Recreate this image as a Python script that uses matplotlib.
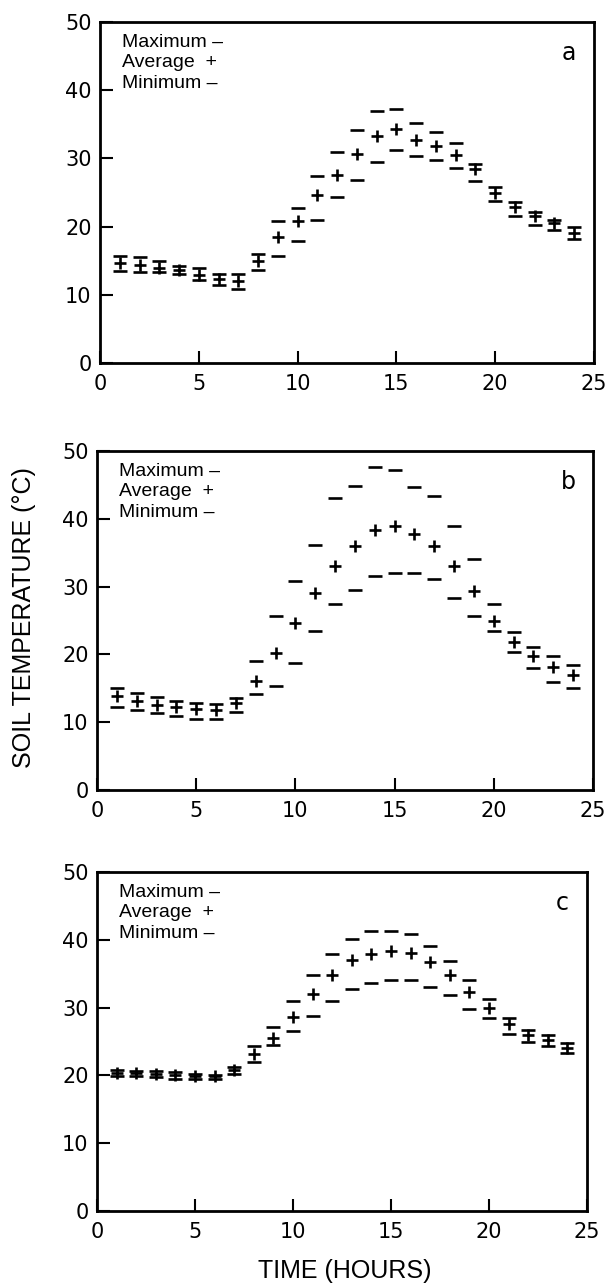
import matplotlib
matplotlib.use("Agg")
import matplotlib.pyplot as plt

hours = list(range(1, 25))

a_max = [15.7, 15.6, 14.9, 14.2, 13.9, 13.1, 13.1, 16.0, 20.8, 22.7, 27.4, 31.0,
         34.1, 36.9, 37.3, 35.2, 33.9, 32.2, 29.2, 25.8, 23.6, 22.2, 21.0, 20.0]
a_avg = [14.6, 14.3, 14.0, 13.6, 12.9, 12.3, 12.0, 15.0, 18.5, 20.8, 24.6, 27.6,
         30.7, 33.3, 34.3, 32.7, 31.8, 30.5, 28.4, 24.9, 22.9, 21.5, 20.5, 19.1]
a_min = [13.5, 13.4, 13.3, 13.0, 12.1, 11.5, 10.9, 13.7, 15.7, 17.9, 21.0, 24.4,
         26.8, 29.5, 31.3, 30.4, 29.7, 28.6, 26.7, 23.7, 21.5, 20.3, 19.5, 18.2]

b_max = [15.0, 14.3, 13.7, 13.2, 12.8, 12.7, 13.6, 19.1, 25.6, 30.8, 36.1, 43.1,
         44.9, 47.7, 47.2, 44.7, 43.3, 39.0, 34.1, 27.5, 23.3, 21.1, 19.7, 18.4]
b_avg = [13.8, 13.2, 12.6, 12.2, 12.0, 11.8, 12.8, 16.1, 20.2, 24.7, 29.1, 33.1,
         36.0, 38.3, 38.9, 37.7, 36.0, 33.1, 29.3, 24.9, 21.8, 19.8, 18.2, 16.9]
b_min = [12.3, 11.8, 11.4, 10.9, 10.5, 10.5, 11.5, 14.1, 15.4, 18.8, 23.4, 27.4,
         29.5, 31.6, 32.0, 32.0, 31.1, 28.3, 25.7, 23.4, 20.3, 18.0, 16.0, 15.0]

c_max = [20.8, 20.7, 20.6, 20.5, 20.2, 20.1, 21.3, 24.3, 27.2, 31.0, 34.8, 37.9,
         40.1, 41.3, 41.3, 40.9, 39.1, 36.9, 34.0, 31.2, 28.5, 26.7, 25.9, 24.8]
c_avg = [20.4, 20.3, 20.2, 20.0, 19.9, 19.9, 20.8, 23.1, 25.5, 28.6, 32.0, 34.8,
         37.0, 37.9, 38.3, 38.0, 36.7, 34.8, 32.3, 30.0, 27.6, 25.9, 25.2, 24.1]
c_min = [19.9, 19.9, 19.8, 19.4, 19.5, 19.5, 20.2, 22.0, 24.5, 26.6, 28.8, 30.9,
         32.7, 33.7, 34.1, 34.1, 33.0, 31.9, 29.8, 28.4, 26.1, 25.0, 24.4, 23.3]

panel_labels = ["a", "b", "c"]
legend_lines = ["Maximum \u2013", "Average  +", "Minimum \u2013"]
x_ticks = [0, 5, 10, 15, 20, 25]
y_ticks = [0, 10, 20, 30, 40, 50]

W, H = 609, 1286
fig = plt.figure(figsize=(W / 100, H / 100), dpi=100)

# axes boxes in pixels: left, right, top, bottom
boxes = [(100, 594, 22, 363), (97, 593, 451, 790), (97, 587, 872, 1211)]
data = [(a_max, a_avg, a_min), (b_max, b_avg, b_min), (c_max, c_avg, c_min)]

for (l, r, t, b), (mx, av, mn), lab in zip(boxes, data, panel_labels):
    ax = fig.add_axes([l / W, (H - b) / H, (r - l) / W, (b - t) / H])
    ax.plot(hours, mx, linestyle="none", marker="_", ms=10, mew=1.9, color="black")
    ax.plot(hours, mn, linestyle="none", marker="_", ms=10, mew=1.9, color="black")
    ax.plot(hours, av, linestyle="none", marker="+", ms=8.5, mew=1.9, color="black")
    ax.set_xlim(0, 25)
    ax.set_ylim(0, 50)
    ax.set_xticks(x_ticks)
    ax.set_yticks(y_ticks)
    ax.tick_params(direction="in", length=9, width=1.5, labelsize=15, pad=8)
    ax.tick_params(axis="y", pad=6)
    for s in ax.spines.values():
        s.set_linewidth(2.0)
    for i, line in enumerate(legend_lines):
        ax.text(0.044, 0.94 - 0.06 * i, line, transform=ax.transAxes,
                fontsize=14, family="Liberation Sans", va="center", ha="left")
    ax.text(0.95, 0.91, lab, transform=ax.transAxes, fontsize=17,
            family="DejaVu Sans", va="center", ha="center")

fig.text(24 / W, 1 - 618 / H, "SOIL TEMPERATURE (\u00b0C)", rotation=90,
         fontsize=18, family="Liberation Sans", va="center", ha="center")
fig.text(345 / W, 1 - 1271 / H, "TIME (HOURS)", fontsize=18,
         family="Liberation Sans", va="center", ha="center")

fig.savefig("out.png", dpi=100)
